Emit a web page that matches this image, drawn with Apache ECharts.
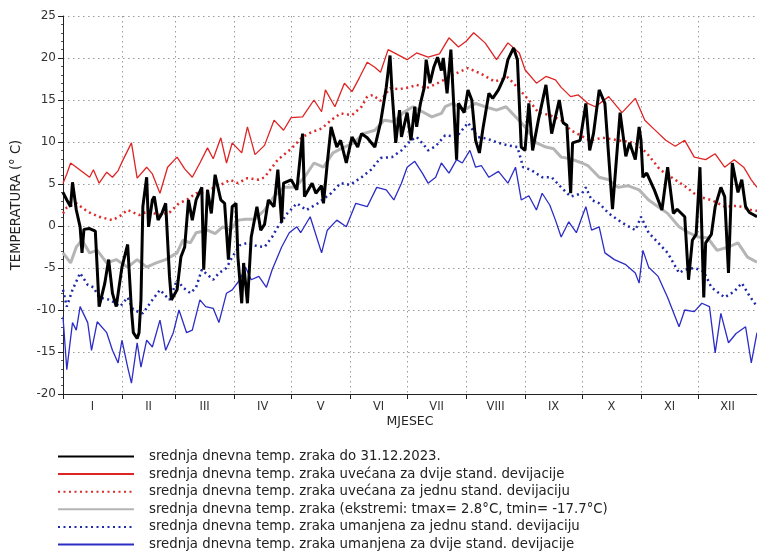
<!DOCTYPE html>
<html>
<head>
<meta charset="utf-8">
<script src="https://cdn.jsdelivr.net/npm/echarts@6/dist/echarts.min.js"></script>
<style>
  html, body { margin: 0; padding: 0; background: #fff; }
  #main { width: 757px; height: 555px; }
</style>
</head>
<body>
<div id="main"></div>
<script>
// mjeseci: granice (dan u godini) i oznake
var monthStarts = [0, 31, 59, 90, 120, 151, 181, 212, 243, 273, 304, 334, 365];
var monthMids = [15.5, 45, 74.5, 105, 135.5, 166, 196.5, 227.5, 258, 288.5, 319, 349.5];
var monthNames = ['I', 'II', 'III', 'IV', 'V', 'VI', 'VII', 'VIII', 'IX', 'X', 'XI', 'XII'];

// srednja dnevna temp. zraka do 31.12.2023.
var blackDays = [0, 2, 4, 5, 7, 9, 10, 11, 14, 17, 19, 22, 24, 26, 28, 31, 34, 36, 37, 39, 40, 41, 42, 44, 45, 47, 48, 50, 52, 54,
  56, 57, 60, 62, 64, 66, 68, 70, 73, 74, 76, 78, 80, 83, 85, 87, 89, 91, 92, 94, 95, 97, 99, 102, 104, 106, 108, 111, 113, 115,
  116, 120, 123, 126, 127, 131, 133, 136, 137, 139, 141, 144, 146, 149, 152, 155, 157, 160, 164, 167, 170, 172, 173, 175, 177, 178, 181, 183, 185, 186,
  188, 190, 191, 193, 195, 197, 199, 200, 202, 204, 207, 208, 211, 213, 215, 217, 219, 221, 224, 226, 229, 232, 234, 237, 239, 241, 243, 245, 247, 250,
  254, 257, 261, 263, 265, 267, 268, 272, 275, 277, 279, 282, 285, 289, 293, 296, 298, 301, 303, 304, 305, 307, 311, 315, 318, 321, 323, 327, 329, 331,
  333, 335, 337, 338, 341, 343, 346, 348, 350, 352, 355, 357, 359, 361, 365];
var blackTemps = [4.0, 3.1, 2.3, 5.2, 1.9, -0.1, -3.2, -0.4, -0.3, -0.6, -9.6, -6.8, -4.0, -8.0, -9.6, -4.9, -2.2, -10.0, -12.7, -13.4, -12.7, -8.8, 2.3, 5.8, -0.1, 3.1, 3.5, 0.7, 1.5, 2.7,
  -6.0, -8.8, -7.6, -3.7, -2.5, 3.1, 0.7, 3.1, 4.6, -5.2, 4.3, 1.5, 6.1, 3.1, 2.7, -4.0, 2.3, 2.7, -3.7, -9.2, -4.4, -9.2, -1.3, 2.3, -0.5, 0.2, 3.1, 2.3, 6.7, 0.4,
  5.1, 5.5, 4.3, 11.0, 3.5, 5.1, 3.9, 4.8, 2.7, 7.5, 11.8, 9.4, 10.2, 7.5, 10.6, 9.4, 11.0, 10.5, 9.4, 12.3, 16.5, 20.3, 16.2, 9.9, 13.8, 10.6, 13.5, 10.2, 14.2, 11.8,
  14.6, 16.5, 19.8, 17.0, 18.9, 20.1, 18.5, 20.0, 15.8, 21.0, 7.9, 14.6, 13.5, 16.2, 15.0, 10.2, 8.7, 11.8, 15.8, 15.2, 16.2, 17.7, 19.8, 21.2, 19.8, 9.4, 9.0, 14.6, 9.0, 12.6,
  16.8, 11.0, 15.0, 12.3, 12.0, 3.9, 9.9, 10.2, 14.6, 9.0, 11.0, 16.2, 14.6, 2.0, 13.5, 8.3, 9.9, 7.9, 11.8, 10.2, 5.8, 6.3, 4.3, 1.9, 7.0, 1.5, 2.0, 1.1, -6.4, -1.7,
  -1.0, 7.0, -8.5, -2.0, -1.0, 2.3, 4.6, 3.5, -5.6, 7.5, 4.0, 5.5, 2.3, 1.6, 1.1];

// uvećana za dvije stand. devijacije
var redDays = [0, 2, 4, 7, 10, 14, 16, 19, 23, 26, 29, 31, 36, 39, 44, 47, 51, 55, 60, 64, 68, 72, 76, 79, 83, 86, 89, 94, 97, 101,
  106, 111, 116, 120, 126, 132, 136, 138, 143, 148, 152, 156, 160, 164, 167, 171, 176, 181, 186, 192, 198, 203, 208, 212, 216, 222, 228, 234, 240, 243,
  249, 254, 259, 262, 267, 271, 276, 280, 287, 294, 301, 306, 311, 317, 322, 327, 332, 338, 343, 348, 353, 358, 362, 365];
var redTemps = [5.1, 6.2, 7.5, 7.0, 6.5, 5.8, 6.7, 5.1, 6.4, 5.8, 6.6, 7.6, 9.9, 5.7, 7.0, 6.2, 3.9, 7.0, 8.2, 6.8, 5.8, 7.5, 9.3, 8.0, 10.5, 7.5, 9.9, 8.7, 11.8, 8.5,
  9.6, 12.6, 11.4, 12.9, 13.0, 15.0, 13.6, 16.2, 14.2, 17.0, 16.0, 17.7, 19.5, 18.9, 18.3, 21.0, 20.4, 19.8, 20.6, 20.1, 20.5, 22.4, 21.3, 22.0, 23.0, 21.8, 19.8, 21.8, 20.6, 18.6,
  17.0, 17.8, 17.4, 16.5, 15.4, 15.6, 14.6, 14.2, 15.4, 13.5, 15.2, 12.6, 11.5, 10.2, 9.5, 10.2, 8.2, 7.9, 8.6, 7.0, 7.9, 7.0, 5.5, 4.6];

// uvećana za jednu stand. devijaciju
var redDotDays = [0, 2, 7, 13, 19, 26, 30, 34, 40, 45, 50, 56, 61, 65, 70, 74, 79, 83, 88, 92, 97, 103, 106, 110, 113, 120, 126, 131, 136, 141,
  146, 152, 157, 160, 163, 167, 172, 177, 182, 186, 191, 197, 203, 207, 213, 220, 227, 234, 239, 245, 250, 256, 262, 267, 272, 277, 284, 292, 301, 307,
  314, 322, 328, 334, 341, 348, 355, 362, 365];
var redDotTemps = [1.5, 2.2, 2.7, 1.7, 1.1, 0.7, 1.2, 1.9, 1.3, 1.8, 1.3, 1.6, 2.7, 3.1, 3.9, 4.0, 4.5, 4.9, 5.5, 5.1, 5.7, 5.5, 5.8, 7.0, 7.9, 9.2, 10.6, 11.2, 11.6, 12.6,
  13.4, 13.2, 14.2, 15.4, 15.6, 14.9, 16.4, 16.3, 16.5, 16.8, 16.4, 17.0, 17.7, 18.2, 18.8, 18.1, 17.2, 17.7, 16.5, 15.0, 13.5, 13.2, 12.6, 11.4, 10.8, 10.2, 10.5, 10.2, 9.9, 8.7,
  6.7, 5.5, 4.6, 3.5, 3.1, 2.3, 2.4, 1.9, 1.8];

// srednja dnevna temp. zraka (višegodišnji prosjek)
var grayDays = [0, 4, 7, 10, 14, 18, 23, 28, 34, 39, 44, 49, 54, 60, 63, 67, 70, 76, 80, 84, 88, 92, 96, 101, 106, 111, 116, 122, 127, 132,
  137, 142, 148, 153, 158, 164, 169, 174, 179, 184, 189, 194, 199, 201, 205, 211, 217, 222, 228, 233, 238, 243, 249, 254, 258, 262, 267, 273, 276, 282,
  287, 292, 297, 303, 308, 313, 318, 324, 329, 334, 339, 344, 350, 355, 360, 365];
var grayTemps = [-3.2, -4.4, -2.5, -1.7, -3.2, -2.9, -4.4, -4.0, -4.9, -4.0, -4.9, -4.4, -4.0, -3.2, -1.7, -2.0, -0.8, -0.5, -0.9, -0.1, -0.5, 0.7, 0.8, 0.8, 1.9, 3.5, 4.6, 4.6, 5.8, 7.5,
  7.0, 8.7, 9.4, 9.9, 11.0, 11.4, 12.6, 12.4, 13.5, 14.2, 13.6, 13.0, 13.4, 14.2, 14.6, 13.8, 14.6, 14.2, 13.8, 14.2, 13.0, 11.8, 9.9, 9.4, 9.2, 8.2, 8.0, 7.5, 7.2, 5.8,
  5.5, 4.6, 4.8, 4.3, 3.1, 2.3, 1.5, -0.1, -0.8, -1.3, -1.4, -2.9, -2.5, -2.0, -3.7, -4.3];

// umanjena za jednu stand. devijaciju
var blueDotDays = [0, 2, 5, 9, 13, 16, 19, 25, 30, 34, 37, 42, 47, 51, 56, 60, 63, 67, 70, 73, 79, 82, 86, 89, 93, 97, 102, 106, 110, 113,
  118, 123, 128, 134, 141, 146, 151, 157, 162, 167, 173, 178, 183, 186, 190, 192, 196, 201, 207, 213, 218, 223, 229, 234, 239, 242, 246, 252, 257, 262,
  267, 273, 275, 278, 282, 287, 294, 301, 304, 308, 313, 318, 324, 327, 332, 337, 341, 345, 348, 353, 357, 361, 365];
var blueDotTemps = [-7.6, -9.6, -7.6, -5.6, -7.0, -7.3, -8.5, -8.8, -9.6, -8.5, -10.0, -10.4, -8.8, -7.6, -8.8, -6.4, -7.3, -8.0, -7.3, -5.2, -6.4, -5.6, -5.0, -3.7, -2.3, -2.0, -2.4, -2.5, -1.3, -0.1,
  1.5, 2.7, 1.9, 2.7, 3.9, 5.1, 4.9, 5.8, 6.7, 8.1, 8.2, 9.0, 10.2, 10.6, 9.6, 9.0, 9.5, 10.8, 10.6, 12.3, 10.6, 10.4, 9.9, 9.6, 9.4, 7.0, 6.7, 5.8, 5.8, 4.6,
  3.5, 3.9, 4.6, 3.1, 2.7, 1.5, 0.4, -0.5, 1.1, -0.8, -2.0, -3.2, -5.6, -5.2, -5.0, -5.4, -7.3, -8.0, -8.5, -7.8, -6.8, -8.3, -9.6];

// umanjena za dvije stand. devijacije
var blueDays = [0, 2, 5, 7, 9, 13, 15, 18, 23, 26, 29, 31, 34, 36, 39, 41, 44, 47, 51, 54, 58, 61, 65, 68, 72, 75, 79, 82, 86, 89,
  93, 96, 99, 103, 107, 110, 115, 119, 123, 125, 130, 136, 139, 144, 149, 154, 160, 165, 170, 174, 178, 181, 185, 189, 192, 196, 199, 203, 207, 210,
  214, 217, 220, 224, 229, 234, 238, 241, 245, 249, 252, 256, 259, 262, 266, 270, 273, 275, 278, 282, 285, 290, 296, 301, 303, 305, 308, 313, 318, 324,
  327, 332, 336, 340, 343, 346, 350, 354, 359, 362, 365];
var blueTemps = [-10.8, -17.1, -11.5, -12.4, -9.6, -11.5, -14.8, -11.4, -12.7, -14.8, -16.3, -13.6, -16.8, -18.7, -13.9, -16.8, -13.6, -14.4, -11.2, -14.8, -12.7, -10.0, -12.7, -12.4, -8.8, -9.6, -9.8, -11.5, -8.0, -7.6,
  -6.4, -4.9, -6.4, -6.0, -7.3, -5.2, -2.5, -0.8, -0.1, -0.8, 1.1, -3.2, -0.5, 0.7, -0.1, 2.7, 2.3, 4.6, 4.3, 3.1, 5.1, 7.0, 7.7, 6.3, 5.1, 5.8, 7.5, 6.3, 7.9, 7.5,
  9.0, 7.0, 7.2, 5.8, 6.5, 5.1, 7.0, 3.1, 3.6, 1.9, 3.9, 2.5, 0.7, -1.3, 0.5, -0.8, 1.1, 2.3, -0.5, -0.1, -3.2, -4.0, -4.6, -5.6, -6.8, -2.9, -4.9, -6.0, -8.5, -12.0,
  -10.0, -10.2, -9.2, -9.6, -15.1, -10.4, -13.9, -12.8, -12.0, -16.3, -12.7];

var legendNames = [
  'srednja dnevna temp. zraka do 31.12.2023.',
  'srednja dnevna temp. zraka uvećana za dvije stand. devijacije',
  'srednja dnevna temp. zraka uvećana za jednu stand. devijaciju',
  'srednja dnevna temp. zraka (ekstremi: tmax= 2.8°C, tmin= -17.7°C)',
  'srednja dnevna temp. zraka umanjena za jednu stand. devijaciju',
  'srednja dnevna temp. zraka umanjena za dvije stand. devijacije'
];

function pairs(days, temps) {
  return days.map(function (d, i) { return [d, temps[i]]; });
}

function lineSerie(name, days, temps, color, width, type, z) {
  return {
    name: name,
    type: 'line',
    data: pairs(days, temps),
    symbol: 'none',
    z: z,
    lineStyle: { color: color, width: width, type: type },
    itemStyle: { color: color }
  };
}

var FONT = 'DejaVu Sans';
var gridDots = { color: '#9a9a9a', width: 1, type: [1.5, 3.5] };

var chart = echarts.init(document.getElementById('main'));
chart.setOption({
  animation: false,
  textStyle: { fontFamily: FONT },
  grid: { left: 63, right: -2, top: 16, bottom: 161, containLabel: false },
  legend: {
    data: legendNames,
    orient: 'vertical',
    left: 57,
    top: 450,
    padding: 0,
    itemWidth: 76,
    itemHeight: 14,
    itemGap: 4.6,
    // nema kružića u legendi, samo linija
    itemStyle: { color: 'rgba(0,0,0,0)', borderColor: 'rgba(0,0,0,0)', borderWidth: 0 },
    textStyle: { fontFamily: FONT, fontSize: 13.3, color: '#222', padding: [0, 0, 0, 10] }
  },
  xAxis: {
    type: 'value',
    min: 0,
    max: 365,
    name: 'MJESEC',
    nameLocation: 'middle',
    nameGap: 21,
    nameMoveOverlap: false,
    nameTextStyle: { fontFamily: FONT, fontSize: 12.5, color: '#222' },
    axisLine: { show: true, onZero: false, lineStyle: { color: '#222', width: 1 } },
    axisTick: { show: true, customValues: monthStarts, length: 5, lineStyle: { color: '#222' } },
    axisLabel: {
      customValues: monthMids,
      margin: 7,
      fontFamily: FONT,
      fontSize: 11.5,
      color: '#333',
      formatter: function (v) { return monthNames[monthMids.indexOf(v)]; }
    },
    splitLine: { show: true, lineStyle: gridDots }
  },
  yAxis: {
    type: 'value',
    min: -20,
    max: 25,
    interval: 5,
    name: 'TEMPERATURA (° C)',
    nameLocation: 'middle',
    nameRotate: 90,
    nameGap: 40,
    nameTextStyle: { fontFamily: FONT, fontSize: 13.2, color: '#222' },
    axisLine: { show: true, lineStyle: { color: '#222', width: 1 } },
    axisTick: { show: true, length: 5, lineStyle: { color: '#222' } },
    minorTick: { show: true, splitNumber: 5, length: 2, lineStyle: { color: '#555' } },
    axisLabel: { margin: 7, fontFamily: FONT, fontSize: 12, color: '#333' },
    splitLine: { show: true, lineStyle: gridDots }
  },
  series: [
    lineSerie(legendNames[0], blackDays, blackTemps, '#000000', 3, 'solid', 5),
    lineSerie(legendNames[1], redDays, redTemps, '#df2424', 1.3, 'solid', 2),
    lineSerie(legendNames[2], redDotDays, redDotTemps, '#dd2a2a', 2.5, [2, 3.5], 2),
    lineSerie(legendNames[3], grayDays, grayTemps, '#b5b5b5', 3, 'solid', 2),
    lineSerie(legendNames[4], blueDotDays, blueDotTemps, '#1f2aa8', 2.5, [2, 3.5], 2),
    lineSerie(legendNames[5], blueDays, blueTemps, '#2c2cc6', 1.3, 'solid', 2)
  ]
});
</script>
</body>
</html>
